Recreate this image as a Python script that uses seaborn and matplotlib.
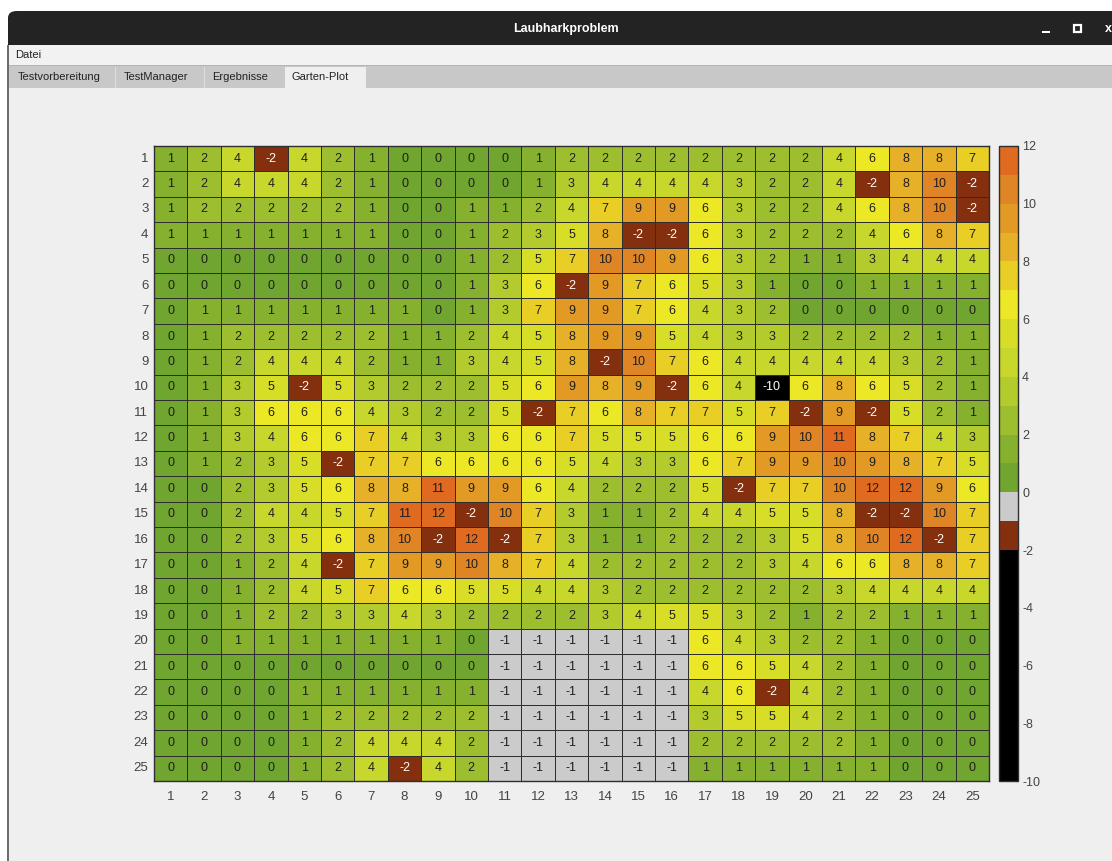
import numpy as np
import pandas as pd
import matplotlib
matplotlib.use("Agg")
import matplotlib.pyplot as plt
import seaborn as sns
from matplotlib.colors import ListedColormap, BoundaryNorm
from matplotlib.patches import Rectangle, FancyBboxPatch

# ---- garden grid values (row 1 at top, column 1 at left) ----
garden = [
    [1, 2, 4, -2, 4, 2, 1, 0, 0, 0, 0, 1, 2, 2, 2, 2, 2, 2, 2, 2, 4, 6, 8, 8, 7],
    [1, 2, 4, 4, 4, 2, 1, 0, 0, 0, 0, 1, 3, 4, 4, 4, 4, 3, 2, 2, 4, -2, 8, 10, -2],
    [1, 2, 2, 2, 2, 2, 1, 0, 0, 1, 1, 2, 4, 7, 9, 9, 6, 3, 2, 2, 4, 6, 8, 10, -2],
    [1, 1, 1, 1, 1, 1, 1, 0, 0, 1, 2, 3, 5, 8, -2, -2, 6, 3, 2, 2, 2, 4, 6, 8, 7],
    [0, 0, 0, 0, 0, 0, 0, 0, 0, 1, 2, 5, 7, 10, 10, 9, 6, 3, 2, 1, 1, 3, 4, 4, 4],
    [0, 0, 0, 0, 0, 0, 0, 0, 0, 1, 3, 6, -2, 9, 7, 6, 5, 3, 1, 0, 0, 1, 1, 1, 1],
    [0, 1, 1, 1, 1, 1, 1, 1, 0, 1, 3, 7, 9, 9, 7, 6, 4, 3, 2, 0, 0, 0, 0, 0, 0],
    [0, 1, 2, 2, 2, 2, 2, 1, 1, 2, 4, 5, 8, 9, 9, 5, 4, 3, 3, 2, 2, 2, 2, 1, 1],
    [0, 1, 2, 4, 4, 4, 2, 1, 1, 3, 4, 5, 8, -2, 10, 7, 6, 4, 4, 4, 4, 4, 3, 2, 1],
    [0, 1, 3, 5, -2, 5, 3, 2, 2, 2, 5, 6, 9, 8, 9, -2, 6, 4, -10, 6, 8, 6, 5, 2, 1],
    [0, 1, 3, 6, 6, 6, 4, 3, 2, 2, 5, -2, 7, 6, 8, 7, 7, 5, 7, -2, 9, -2, 5, 2, 1],
    [0, 1, 3, 4, 6, 6, 7, 4, 3, 3, 6, 6, 7, 5, 5, 5, 6, 6, 9, 10, 11, 8, 7, 4, 3],
    [0, 1, 2, 3, 5, -2, 7, 7, 6, 6, 6, 6, 5, 4, 3, 3, 6, 7, 9, 9, 10, 9, 8, 7, 5],
    [0, 0, 2, 3, 5, 6, 8, 8, 11, 9, 9, 6, 4, 2, 2, 2, 5, -2, 7, 7, 10, 12, 12, 9, 6],
    [0, 0, 2, 4, 4, 5, 7, 11, 12, -2, 10, 7, 3, 1, 1, 2, 4, 4, 5, 5, 8, -2, -2, 10, 7],
    [0, 0, 2, 3, 5, 6, 8, 10, -2, 12, -2, 7, 3, 1, 1, 2, 2, 2, 3, 5, 8, 10, 12, -2, 7],
    [0, 0, 1, 2, 4, -2, 7, 9, 9, 10, 8, 7, 4, 2, 2, 2, 2, 2, 3, 4, 6, 6, 8, 8, 7],
    [0, 0, 1, 2, 4, 5, 7, 6, 6, 5, 5, 4, 4, 3, 2, 2, 2, 2, 2, 2, 3, 4, 4, 4, 4],
    [0, 0, 1, 2, 2, 3, 3, 4, 3, 2, 2, 2, 2, 3, 4, 5, 5, 3, 2, 1, 2, 2, 1, 1, 1],
    [0, 0, 1, 1, 1, 1, 1, 1, 1, 0, -1, -1, -1, -1, -1, -1, 6, 4, 3, 2, 2, 1, 0, 0, 0],
    [0, 0, 0, 0, 0, 0, 0, 0, 0, 0, -1, -1, -1, -1, -1, -1, 6, 6, 5, 4, 2, 1, 0, 0, 0],
    [0, 0, 0, 0, 1, 1, 1, 1, 1, 1, -1, -1, -1, -1, -1, -1, 4, 6, -2, 4, 2, 1, 0, 0, 0],
    [0, 0, 0, 0, 1, 2, 2, 2, 2, 2, -1, -1, -1, -1, -1, -1, 3, 5, 5, 4, 2, 1, 0, 0, 0],
    [0, 0, 0, 0, 1, 2, 4, 4, 4, 2, -1, -1, -1, -1, -1, -1, 2, 2, 2, 2, 2, 1, 0, 0, 0],
    [0, 0, 0, 0, 1, 2, 4, -2, 4, 2, -1, -1, -1, -1, -1, -1, 1, 1, 1, 1, 1, 1, 0, 0, 0],
]
row_labels = [str(i) for i in range(1, 26)]
col_labels = [str(i) for i in range(1, 26)]

# discrete colour levels: [-10,-2) black, [-2,-1) brown, [-1,0) grey, then one per unit
level_bounds = [-10, -2, -1, 0, 1, 2, 3, 4, 5, 6, 7, 8, 9, 10, 11, 12]
level_colors = [
    "#000000", "#84300e", "#cbcbcb",
    "#70a52f", "#86b12f", "#9dbf2f", "#b3cb2d", "#c7d72b", "#d8de28",
    "#ede825", "#e8ce25", "#e6b128", "#e29a25", "#e08525", "#e06a20",
]
cbar_ticks = [-10, -8, -6, -4, -2, 0, 2, 4, 6, 8, 10, 12]

W, H = 1112, 861


def fx(x):
    return x / W


def fy(y):
    return 1 - y / H


sns.set_theme(style="white")
plt.rcParams["font.family"] = ["Liberation Sans", "DejaVu Sans"]
plt.rcParams["axes.unicode_minus"] = False

fig = plt.figure(figsize=(W / 100, H / 100), dpi=100, facecolor="white")


def box(x0, y0, x1, y1, color, z=-5, edge="none", lw=0):
    fig.patches.append(Rectangle((fx(x0), fy(y1)), fx(x1) - fx(x0), fy(y0) - fy(y1),
                                 transform=fig.transFigure, facecolor=color,
                                 edgecolor=edge, linewidth=lw, zorder=z))


def label(x, y, s, **kw):
    fig.text(fx(x), fy(y), s, **kw)


# ---- application window (drawn behind the axes) ----
fig.patches.append(FancyBboxPatch((fx(8), fy(45)), fx(1140) - fx(8), fy(11) - fy(45),
                                  boxstyle="round,pad=0,rounding_size=0.008",
                                  transform=fig.transFigure, facecolor="#232323",
                                  edgecolor="none", zorder=-6))
box(8, 28, 1140, 45, "#232323")
box(8, 45, 1140, 65, "#f2f2f2")
box(8, 65, 1140, 66, "#b4b4b4")
box(8, 66, 1140, 88, "#c8c8c8")
box(8, 88, 1140, 861, "#efefef")
box(285, 67, 366, 88, "#efefef", z=-4)
box(115, 67, 116, 88, "#dedede", z=-4)
box(204, 67, 205, 88, "#dedede", z=-4)
box(7, 45, 9, 861, "#6c6c6c", z=-4)

label(566, 29, "Laubharkproblem", color="white", fontsize=9, fontweight="bold",
      ha="center", va="center")
box(1042, 31, 1050, 32.5, "white", z=-4)
box(1074, 25, 1081, 32, "none", z=-4, edge="white", lw=1.6)
label(1108, 29, "x", color="white", fontsize=9, fontweight="bold", ha="center", va="center")

label(15, 55, "Datei", color="#222222", fontsize=8, va="center")
for tx, name in [(18, "Testvorbereitung"), (124, "TestManager"),
                 (212, "Ergebnisse"), (292, "Garten-Plot")]:
    label(tx, 77, name, color="#222222", fontsize=8, va="center")

# ---- heatmap ----
ax = fig.add_axes([fx(154), fy(781), fx(989) - fx(154), fy(146) - fy(781)])
cax = fig.add_axes([fx(999), fy(781), fx(1018) - fx(999), fy(146) - fy(781)])

cmap = ListedColormap(level_colors)
cmap.set_over(level_colors[-1])
norm = BoundaryNorm(level_bounds, cmap.N)

df = pd.DataFrame(garden, index=row_labels, columns=col_labels)
sns.heatmap(df, ax=ax, cbar_ax=cax, cmap=cmap, norm=norm,
            annot=True, fmt="d", annot_kws={"fontsize": 9},
            linewidths=0.7, linecolor="#2e2e2e",
            cbar_kws={"spacing": "proportional", "ticks": cbar_ticks})

# dark digits everywhere except on the brown / black cells
for txt in ax.texts:
    v = int(txt.get_text())
    txt.set_color("white" if v <= -2 else "#1e1e1e")

ax.tick_params(axis="both", length=0, labelsize=9.5, labelcolor="#444444")
ax.tick_params(axis="x", pad=7)
ax.tick_params(axis="y", pad=4)
ax.set_yticklabels(row_labels, rotation=0)
ax.set_xticklabels(col_labels, rotation=0)
ax.set_xlabel("")
ax.set_ylabel("")
for sp in ax.spines.values():
    sp.set_visible(True)
    sp.set_color("#2e2e2e")
    sp.set_linewidth(1)

cbar = ax.collections[0].colorbar
cbar.outline.set_edgecolor("#2e2e2e")
cbar.outline.set_linewidth(1)
cax.tick_params(axis="y", direction="in", length=3, width=0.8, color="#333333",
                labelsize=9, labelcolor="#444444", pad=3)
cax.yaxis.set_minor_locator(matplotlib.ticker.NullLocator())

fig.savefig("out.png", dpi=100, facecolor="white")
